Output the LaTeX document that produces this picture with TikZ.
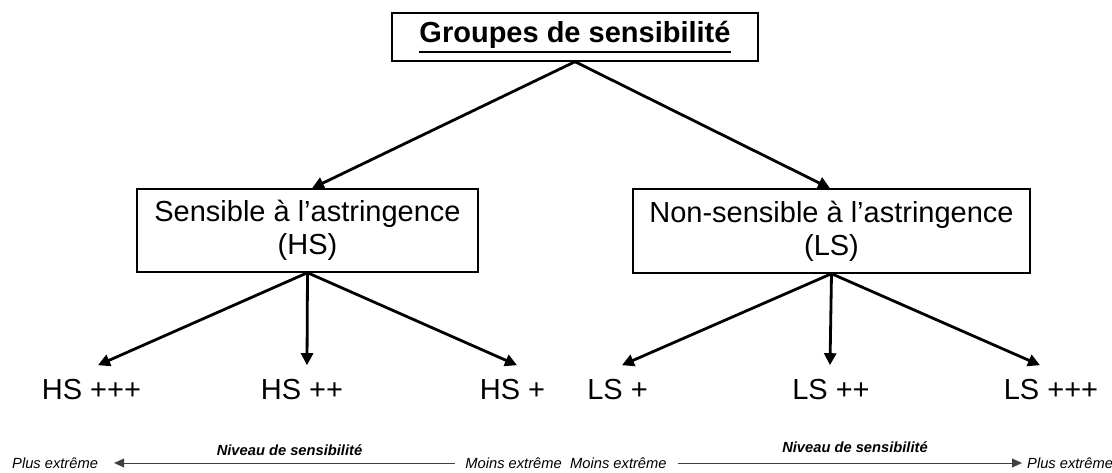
\documentclass[tikz,border=0pt]{standalone}
\usepackage{fontspec}
\setmainfont{Liberation Sans}
\usetikzlibrary{arrows.meta}
\newcommand\thickul[1]{\vtop{\hbox{#1}\kern2.5pt\hrule height 2.2pt}}
\begin{document}
\begin{tikzpicture}[x=1pt,y=1pt,
  box/.style={draw=black,line width=1.4pt,inner sep=0pt,align=center,font=\fontsize{29}{33}\selectfont},
  lab/.style={inner sep=0pt,outer ysep=13pt,text height=20.8pt,text depth=0pt,font=\fontsize{29}{33}\selectfont},
  conn/.style={line width=2.8pt,-{Triangle[length=12pt,width=12pt]}},
  small/.style={inner sep=0pt,font=\fontsize{14.7}{17}\selectfont\itshape},
  levelline/.style={line width=0.8pt,draw=black!75,-{Triangle[length=10pt,width=9pt]}}]
\useasboundingbox (0,0) rectangle (1112,472);
\node[box,minimum width=366pt,minimum height=48pt] (top) at (575,435)
  {\thickul{\bfseries Groupes de sensibilité}};
\node[box,minimum width=341pt,minimum height=83pt] (hs) at (307.5,241.5)
  {Sensible à l’astringence\\(HS)};
\node[box,minimum width=397pt,minimum height=84pt] (ls) at (831.5,241)
  {Non-sensible à l’astringence\\(LS)};
\node[lab,anchor=base] (hs3) at (91.5,73) {HS +++};
\node[lab,anchor=base] (hs2) at (302,73) {HS ++};
\node[lab,anchor=base] (hs1) at (512.5,73) {HS +};
\node[lab,anchor=base] (ls1) at (617.5,73) {LS +};
\node[lab,anchor=base] (ls2) at (831,73) {LS ++};
\node[lab,anchor=base] (ls3) at (1051,73) {LS +++};
\draw[conn] (top.south) -- ([xshift=4.5pt]hs.north);
\draw[conn] (top.south) -- ([xshift=-1.5pt]ls.north);
\draw[conn] (hs.south) -- ([xshift=6.5pt]hs3.north);
\draw[conn] (hs.south) -- ([xshift=5pt]hs2.north);
\draw[conn] (hs.south) -- ([xshift=4.5pt]hs1.north);
\draw[conn] (ls.south) -- ([xshift=4.5pt]ls1.north);
\draw[conn] (ls.south) -- ([xshift=-1pt]ls2.north);
\draw[conn] (ls.south) -- ([xshift=-11pt]ls3.north);
\node[small,anchor=west] (pe1) at (12,9) {Plus extrême};
\node[small,anchor=east] (me1) at (562,9) {Moins extrême};
\node[small,anchor=west] (me2) at (570,9) {Moins extrême};
\node[small,anchor=west] (pe2) at (1027,9) {Plus extrême};
\coordinate (a1) at (455,9);
\coordinate (a2) at (678,9);
\draw[levelline] (a1) -- ([xshift=16pt]pe1.east);
\draw[levelline] (a2) -- ([xshift=-5pt]pe2.west);
\node[small,font=\fontsize{14.7}{17}\selectfont\bfseries\itshape] (n1) at (289.5,22) {Niveau de sensibilité};
\node[small,font=\fontsize{14.7}{17}\selectfont\bfseries\itshape] (n2) at (855,25) {Niveau de sensibilité};
\end{tikzpicture}
\end{document}
